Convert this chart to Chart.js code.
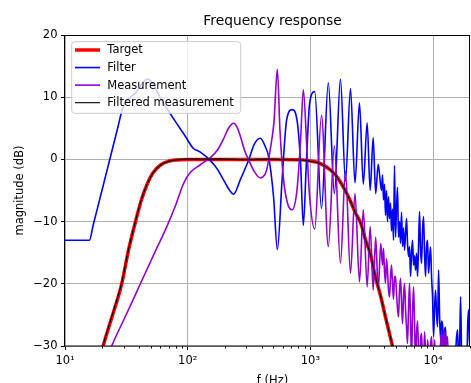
<!DOCTYPE html>
<html><head><meta charset="utf-8">
<script src="https://cdn.jsdelivr.net/npm/chart.js@4"></script>
<style>html,body{margin:0;padding:0;background:#fff;overflow:hidden}</style>
</head><body>
<canvas id="c" width="471" height="383"></canvas>
<script>
// ---- data ----
const seriesLabels = ['Target', 'Filter', 'Measurement', 'Filtered measurement'];
const chartTitle = 'Frequency response';
const xAxisTitle = 'f (Hz)';
const yAxisTitle = 'magnitude (dB)';

const targetFreq = [10, 15, 20.5, 24, 29, 33, 37, 42, 46.7, 52, 60, 70, 80, 100, 300, 600, 830, 1000, 1130, 1300, 1456, 1600, 1750, 1900, 2110, 2330, 2600, 2800, 3090, 3400, 3720, 4100, 4600, 5000, 6000];
const targetDb   = [-58, -42, -30, -25.5, -20, -14.5, -10.5, -6.5, -4.0, -2.2, -0.9, -0.3, -0.1, 0, 0, 0, -0.05, -0.25, -0.45, -1.0, -1.7, -2.5, -3.6, -4.8, -6.6, -8.6, -10.5, -12.8, -15.3, -19.0, -21.8, -25.4, -29.5, -32.5, -40];

const filterFreq = [10, 15.8, 17, 20, 24, 27, 29.5, 38, 47, 63, 80, 95, 111, 126, 153, 175, 196, 220, 237, 268, 314, 350, 391, 430, 457, 501, 538, 588, 640, 710, 778, 832, 876, 927, 986, 1085, 1232, 1400, 1569, 1758, 1932, 2123, 2310, 2513, 2700, 2902, 3071, 3250, 3406, 3570,
  3798, 3870, 3944, 4019, 4095, 4173, 4253, 4333, 4415, 4499, 4584, 4671, 4761, 4850, 4942, 5036, 5132, 5229, 5328, 5430, 5534, 5638, 5744, 5853, 5964, 6077, 6192, 6310, 6431, 6552, 6676, 6802, 6931, 7063, 7196, 7333, 7472, 7614, 7758, 7905, 8054, 8208, 8362, 8522, 8685, 8849, 9017, 9188, 9363, 9541, 9723, 9906, 10094, 10286, 10481, 10680, 10882, 11089, 11300, 11514, 11732, 11954, 12180, 12412, 12647, 12888, 13381, 14426, 15264, 15552, 15849, 16148, 16454, 16767, 17084, 17410, 18769, 19126, 19488, 19861, 20235];
const filterDb   = [-13.0, -13.0, -10.5, -5.0, 1.2, 5.2, 8.2, 10.8, 12.9, 9.1, 6.0, 3.8, 1.8, 1.2, -0.2, -1.6, -3.3, -5.0, -5.6, -3.3, -0.1, 2.5, 3.4, 2.0, 0.4, -6.0, -14.5, -3.3, 6.3, 8.0, 6.3, -0.6, -10.6, -0.6, 9.0, 10.9, -7.9, 12.3, -5.5, 12.9, -3.5, 11.4, -3.8, 9.1, -4.0, 5.9, -5.0, 3.5, -5.5, -0.8,
  -5.0, -2.5, -6.5, -4.0, -9.0, -5.0, -10.0, -6.0, -9.5, -7.0, -11.5, -8.0, -13.0, -1.0, -12.5, -8.0, -4.5, -12.5, -10.0, -13.5, -8.5, -14.0, -11.0, -14.6, -12.0, -9.5, -13.5, -15.6, -14.0, -18.8, -15.0, -13.0, -17.0, -15.5, -17.8, -15.1, -18.8, -14.0, -8.4, -14.5, -16.7, -11.5, -9.2, -15.0, -18.8, -14.0, -13.0, -18.3, -16.0, -14.1, -19.0, -22.1, -28.5, -24.0, -21.0, -25.0, -26.9, -17.8, -25.0, -29.0, -26.0, -26.7, -31, -27.5, -27.0, -33, -36, -36, -31, -28.5, -27.4, -33, -30, -22.1, -32, -36, -36, -27, -24.2, -30, -26];

const measFreq = [20, 24, 32, 43.6, 55, 67.6, 80, 92, 104, 126, 153, 175, 196, 215, 237, 255, 268, 290, 314, 350, 391, 420, 440, 470, 505, 538, 565, 605, 650, 710, 778, 832, 876, 935, 986, 1085, 1232, 1400, 1569, 1758, 1932, 2123, 2310, 2513, 2700, 2902, 3071, 3250, 3406, 3570, 3750,
  3870, 3944, 4019, 4095, 4173, 4253, 4333, 4415, 4499, 4584, 4671, 4761, 4850, 4942, 5036, 5132, 5229, 5328, 5430, 5534, 5638, 5744, 5853, 5964, 6077, 6192, 6310, 6431, 6552, 6676, 6802, 6931, 7063, 7196, 7333, 7472, 7614, 7758, 7905, 8054, 8208, 8362, 8522, 8685, 8849, 9017, 9188, 9363, 9541, 9723, 9906, 10094, 10286, 10481, 10680, 11089, 11514, 11732, 11954, 12180, 12412, 12647, 12888, 13133, 13381];
const measDb   = [-34, -30, -24.7, -18.9, -14.6, -10.8, -7.3, -4.0, -2.2, -0.9, 0.3, 1.5, 3.3, 5.0, 5.8, 5.0, 3.8, 1.5, -0.1, -2.0, -3.0, -2.6, -1.7, 1.5, 6.0, 14.5, 4.7, -3.3, -7.0, -8.1, -4.9, 3.1, 11.2, 2.0, -6.0, -11.2, 7.1, -14.0, 2.2, -16.7, -1.9, -18.3, -5.5, -19.7, -8.1, -20.5, -10.8, -21.0, -12.5, -21.0, -13.5,
  -17, -14.3, -18, -19.9, -16, -18, -21, -22.1, -19, -17.0, -20, -22.5, -19, -18.8, -21.5, -24, -25.3, -21, -19.1, -23, -26.4, -22, -19.9, -24, -27, -29.6, -24, -19.9, -26, -32, -25, -20.5, -26, -33, -28, -26, -31, -34, -29, -28, -32, -33, -27.7, -31, -34, -29, -31, -35, -30, -28.5, -33, -35, -29, -33, -36, -34, -29.5, -28, -33, -28.5, -27.7, -31, -29, -28.5, -35];

const filteredFreq = [10, 15, 20.5, 24, 29, 33, 37, 42, 46.7, 52, 60, 70, 80, 100, 200, 300, 450, 600, 830, 1000, 1130, 1300, 1456, 1600, 1750, 1900, 2110, 2330, 2600, 2800, 3090, 3400, 3720, 4100, 4600, 5000, 6000];
const filteredDb   = [-57, -41.5, -29.8, -25.3, -19.8, -14.4, -10.4, -6.4, -4.0, -2.2, -0.9, -0.3, -0.1, 0.05, 0.05, -0.05, 0.05, -0.05, -0.1, -0.3, -0.5, -1.0, -1.7, -2.5, -3.6, -4.8, -6.6, -8.6, -10.5, -12.8, -15.3, -19.0, -21.8, -25.4, -29.4, -32.5, -40];

const xMajorTicks = [10, 100, 1000, 10000];
const xTickLabels = ['10\u00b9', '10\u00b2', '10\u00b3', '10\u2074'];
const yTicks = [-30, -20, -10, 0, 10, 20];

// ---- chart ----
const FONT = '"DejaVu Sans", sans-serif';
Chart.defaults.color = '#000';
Chart.defaults.font.family = FONT;

const pts = (f, d) => f.map((v, i) => ({x: v, y: d[i]}));

const spines = {
  id: 'spines',
  afterDatasetsDraw(chart) {
    const {ctx, chartArea: a, scales} = chart;
    ctx.save();
    ctx.strokeStyle = '#000';
    ctx.lineWidth = 1;
    ctx.strokeRect(Math.round(a.left) - 0.5, Math.round(a.top) + 0.5, Math.round(a.right - a.left), Math.round(a.bottom - a.top) - 0.5);
    const xs = scales.x;
    ctx.beginPath();
    xs.ticks.forEach(t => {
      if (!xMajorTicks.includes(t.value)) {
        const px = Math.round(xs.getPixelForValue(t.value)) + 0.5;
        ctx.moveTo(px, a.bottom);
        ctx.lineTo(px, a.bottom + 2.5);
      }
    });
    ctx.stroke();
    ctx.restore();
  },
  afterDraw(chart) {
    // title and x-axis label, centred as in the reference
    const {ctx} = chart;
    ctx.save();
    ctx.fillStyle = '#000';
    ctx.textAlign = 'center';
    ctx.textBaseline = 'middle';
    ctx.font = '13.8px ' + FONT;
    ctx.fillText(chartTitle, 272.5, 21.5);
    ctx.font = '11.5px ' + FONT;
    ctx.fillText(xAxisTitle, 272.5, 381);
    ctx.restore();
  }
};

const mplLegend = {
  id: 'mplLegend',
  afterDraw(chart) {
    const {ctx, chartArea: a} = chart;
    const x0 = a.left + 6.7, y0 = a.top + 6.7, w = 169, h = 71.6, r = 3;
    ctx.save();
    ctx.beginPath();
    ctx.moveTo(x0 + r, y0);
    ctx.lineTo(x0 + w - r, y0); ctx.quadraticCurveTo(x0 + w, y0, x0 + w, y0 + r);
    ctx.lineTo(x0 + w, y0 + h - r); ctx.quadraticCurveTo(x0 + w, y0 + h, x0 + w - r, y0 + h);
    ctx.lineTo(x0 + r, y0 + h); ctx.quadraticCurveTo(x0, y0 + h, x0, y0 + h - r);
    ctx.lineTo(x0, y0 + r); ctx.quadraticCurveTo(x0, y0, x0 + r, y0);
    ctx.closePath();
    ctx.fillStyle = 'rgba(255,255,255,0.8)';
    ctx.fill();
    ctx.strokeStyle = '#cccccc';
    ctx.lineWidth = 1;
    ctx.stroke();
    ctx.font = '11.5px ' + FONT;
    ctx.textBaseline = 'middle';
    chart.data.datasets.forEach((ds, i) => {
      const cy = a.top + 15 + i * 17.56;
      ctx.beginPath();
      ctx.moveTo(a.left + 10, cy);
      ctx.lineTo(a.left + 35, cy);
      ctx.strokeStyle = ds.borderColor;
      ctx.lineWidth = ds.borderWidth;
      ctx.stroke();
      ctx.fillStyle = '#000';
      ctx.fillText(ds.label, a.left + 42.3, cy + 0.5);
    });
    ctx.restore();
  }
};

const common = {pointRadius: 0, fill: false, cubicInterpolationMode: 'monotone', clip: 0, borderCapStyle: 'butt', borderJoinStyle: 'round'};

new Chart(document.getElementById('c'), {
  type: 'line',
  data: {
    datasets: [
      {...common, label: seriesLabels[0], data: pts(targetFreq, targetDb), borderColor: '#ff0000', borderWidth: 3.5, order: 4},
      {...common, label: seriesLabels[1], data: pts(filterFreq, filterDb), borderColor: '#0000ff', borderWidth: 1.6, order: 3},
      {...common, label: seriesLabels[2], data: pts(measFreq, measDb), borderColor: '#9400d3', borderWidth: 1.6, order: 2},
      {...common, label: seriesLabels[3], data: pts(filteredFreq, filteredDb), borderColor: '#000000', borderWidth: 1.1, order: 1}
    ]
  },
  options: {
    responsive: false,
    animation: false,
    devicePixelRatio: 1,
    layout: {padding: {left: 0, right: 1, top: 35, bottom: 0}},
    plugins: {
      legend: {display: false},
      tooltip: {enabled: false},
      title: {display: false}
    },
    scales: {
      x: {
        type: 'logarithmic', min: 10, max: 20000,
        afterBuildTicks(scale) {
          const t = [];
          for (let e = 1; e <= 4; e++) for (let s = 1; s <= 9; s++) { const v = s * Math.pow(10, e); if (v <= 20000) t.push({value: v}); }
          scale.ticks = t;
        },
        afterFit(scale) { scale.height = 37; scale.paddingRight = 0; scale.paddingLeft = 0; },
        ticks: {
          autoSkip: false, maxRotation: 0, padding: 4,
          font: {size: 11.5, family: FONT}, color: '#000',
          callback(v) { const i = xMajorTicks.indexOf(v); return i >= 0 ? xTickLabels[i] : ''; }
        },
        grid: {
          color: c => (c.tick && xMajorTicks.includes(c.tick.value)) ? '#b0b0b0' : 'rgba(0,0,0,0)',
          lineWidth: 1, drawTicks: true, tickLength: 4,
          tickColor: c => (c.tick && xMajorTicks.includes(c.tick.value)) ? '#000' : 'rgba(0,0,0,0)'
        },
        border: {display: false},
        title: {display: false}
      },
      y: {
        type: 'linear', min: -30, max: 20,
        afterBuildTicks(scale) { scale.ticks = yTicks.map(v => ({value: v})); },
        afterFit(scale) { scale.width = 65; },
        ticks: {
          padding: 3.5, font: {size: 11.5, family: FONT}, color: '#000',
          callback(v) { return v < 0 ? '\u2212' + Math.abs(v) : String(v); }
        },
        grid: {color: '#b0b0b0', lineWidth: 1, drawTicks: true, tickLength: 4, tickColor: '#000'},
        border: {display: false},
        title: {display: true, text: yAxisTitle, color: '#000', font: {size: 11.5, family: FONT}, padding: {top: 13, bottom: 0}}
      }
    }
  },
  plugins: [spines, mplLegend]
});
</script>
</body></html>
